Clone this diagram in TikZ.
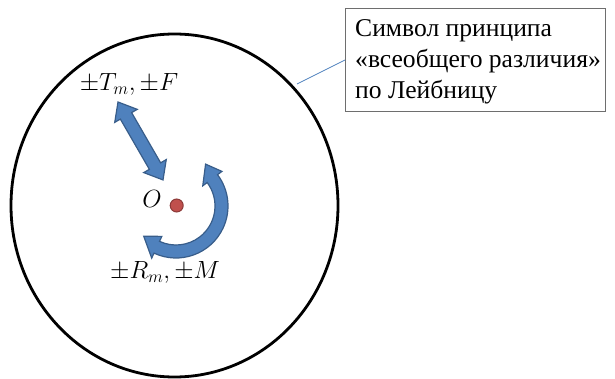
\documentclass[tikz,border=0pt]{standalone}
\usepackage{fontspec}
\newfontfamily\serifru{Liberation Serif}
\usetikzlibrary{calc}
\definecolor{accfill}{HTML}{4F81BD}
\definecolor{accline}{HTML}{385D8A}
\definecolor{dotfill}{HTML}{C0504D}
\definecolor{dotline}{HTML}{8C3A38}
\definecolor{boxline}{HTML}{6E6E6E}
\tikzset{
  blockarrow/.style={fill=accfill, draw=accline, line width=1.2pt, line join=miter},
  mathlbl/.style={inner sep=0pt, font=\fontsize{23}{27}\selectfont},
  calloutbox/.style={draw=boxline, line width=1.3pt, minimum width=260pt, minimum height=103pt, inner sep=0pt, anchor=north west},
  callouttext/.style={inner sep=0pt, anchor=base west, align=left, font={\serifru\fontsize{25.6}{31}\selectfont}},
  leader/.style={draw=accfill, line width=0.8pt}
}
\begin{document}
\begin{tikzpicture}[x=1pt,y=-1pt]
\useasboundingbox (0,0) rectangle (615,379);
% big circle
\coordinate (c) at (174.5,205.5);
\draw[line width=2.8pt] (c) ellipse[x radius=163.5, y radius=171.5];
% callout box
\node[calloutbox] (box) at (345,8) {};
\node[callouttext] (boxtext) at (355,98.3) {Символ принципа\\«всеобщего различия»\\по Лейбницу};
\coordinate (touch) at (297,84);
\draw[leader] (box.west |- 0,60) -- (touch);
% straight double arrow
\coordinate (a1) at (118,102);
\begin{scope}[shift={(a1)}, rotate=-60]
  \path[blockarrow] (0,0) -- (16,13) -- (16,6.5) -- (74,6.5) -- (74,13) -- (90,0)
    -- (74,-13) -- (74,-6.5) -- (16,-6.5) -- (16,-13) -- cycle;
\end{scope}
% curved arrow
\begin{scope}[shift={(176,206)}, y=1pt]
  \path[blockarrow] (-115:52) arc[start angle=-115, end angle=37, radius=52pt]
    -- (37:57.5) -- ($(37:45.5)+(115:16)$) -- (37:33.5) -- (37:39)
    arc[start angle=37, end angle=-115, radius=39pt]
    -- (-115:33.5) -- ($(-115:45.5)+(140:17)$) -- (-115:57.5) -- cycle;
\end{scope}
% centre dot
\node[circle, fill=dotfill, draw=dotline, line width=1pt, minimum size=13pt, inner sep=0pt] (dot) at (176.7,205.5) {};
% labels
\node[mathlbl, anchor=base] (tf) at (129,90.7) {$\pm T_m, \pm F$};
\node[mathlbl, anchor=base] (rm) at (165,278.3) {$\pm R_m, \pm M$};
\node[mathlbl] (o) at (152,199.3) {$O$};
\end{tikzpicture}
\end{document}
